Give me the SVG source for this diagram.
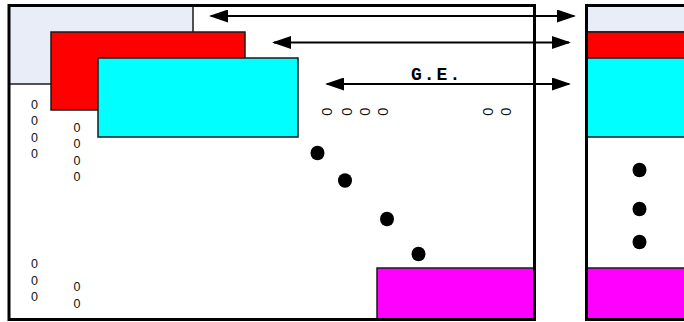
<svg xmlns="http://www.w3.org/2000/svg" width="684" height="322" viewBox="0 0 684 322">
<defs>
<style>
.blk{fill:#e8edf7;stroke:#1a1a1a;stroke-width:1.5}
.red{fill:#ff0000;stroke:#1a1a1a;stroke-width:1.5}
.cyan{fill:#00ffff;stroke:#1a1a1a;stroke-width:1.5}
.mag{fill:#ff00ff;stroke:#1a1a1a;stroke-width:1.5}
.frame{fill:none;stroke:#000;stroke-width:3}
.conn{stroke:#000;stroke-width:2;fill:none;marker-start:url(#ah);marker-end:url(#ah)}
.z{font-family:"Liberation Sans",Arial,sans-serif;font-size:12.5px;fill:#111;text-anchor:middle}
.zr{font-family:"Liberation Sans",Arial,sans-serif;font-size:14.5px;fill:#111;text-anchor:middle;dominant-baseline:central}
.lbl{font-family:"Liberation Mono","Courier New",monospace;font-size:18px;font-weight:bold;letter-spacing:2px;fill:#000}
.dot{fill:#000}
</style>
<marker id="ah" markerUnits="userSpaceOnUse" markerWidth="19" markerHeight="13" refX="17" refY="6.5" orient="auto-start-reverse" viewBox="0 0 19 13">
<path d="M0,0 L19,6.5 L0,13 z" fill="#000"/>
</marker>
</defs>
<rect width="684" height="322" fill="#fff"/>

<g id="left-matrix">
<rect class="blk" x="9" y="5.5" width="184" height="78.5"/>
<rect class="red" x="51" y="32" width="194" height="78"/>
<rect class="cyan" x="98" y="58" width="200" height="79"/>
<rect class="mag" x="377" y="268" width="157.5" height="52"/>
<rect class="frame" x="9" y="5.5" width="525.5" height="314"/>
</g>

<g id="right-matrix">
<rect class="blk" x="586.5" y="5.5" width="100" height="26.5"/>
<rect class="red" x="586.5" y="32" width="100" height="26"/>
<rect class="cyan" x="586.5" y="58" width="100" height="79"/>
<rect class="mag" x="586.5" y="268" width="100" height="52"/>
<rect class="frame" x="586.5" y="5.5" width="102" height="314"/>
</g>

<g id="left-zeros">
<text class="z" x="34.5" y="108.5">0</text>
<text class="z" x="34.5" y="125">0</text>
<text class="z" x="34.5" y="141.5">0</text>
<text class="z" x="34.5" y="158">0</text>
<text class="z" x="77" y="131.5">0</text>
<text class="z" x="77" y="148">0</text>
<text class="z" x="77" y="164.5">0</text>
<text class="z" x="77" y="181">0</text>
<text class="z" x="34.5" y="268">0</text>
<text class="z" x="34.5" y="284.5">0</text>
<text class="z" x="34.5" y="301">0</text>
<text class="z" x="77" y="291">0</text>
<text class="z" x="77" y="307.5">0</text>
</g>

<g id="top-zeros">
<text class="zr" transform="translate(326.7,111.7) rotate(-90)">0</text>
<text class="zr" transform="translate(346.5,111.7) rotate(-90)">0</text>
<text class="zr" transform="translate(365,111.7) rotate(-90)">0</text>
<text class="zr" transform="translate(382.7,111.7) rotate(-90)">0</text>
<text class="zr" transform="translate(488.3,111.7) rotate(-90)">0</text>
<text class="zr" transform="translate(506,111.7) rotate(-90)">0</text>
</g>

<g id="dots">
<ellipse class="dot" cx="317.5" cy="153" rx="7" ry="7.3"/>
<ellipse class="dot" cx="345" cy="180.5" rx="7" ry="7.3"/>
<ellipse class="dot" cx="387" cy="219" rx="7" ry="7.3"/>
<ellipse class="dot" cx="418.5" cy="254" rx="7" ry="7.3"/>
<ellipse class="dot" cx="639.5" cy="170" rx="7" ry="7.3"/>
<ellipse class="dot" cx="639.5" cy="209" rx="7" ry="7.3"/>
<ellipse class="dot" cx="639.5" cy="242" rx="7" ry="7.3"/>
</g>

<g id="connectors">
<line class="conn" x1="211" y1="16" x2="574" y2="16"/>
<line class="conn" x1="274" y1="42.5" x2="569" y2="42.5"/>
<line class="conn" x1="327" y1="84" x2="569" y2="84"/>
</g>

<g id="label-ge">
<text class="lbl" x="411" y="80">G.E.</text>
</g>
</svg>
